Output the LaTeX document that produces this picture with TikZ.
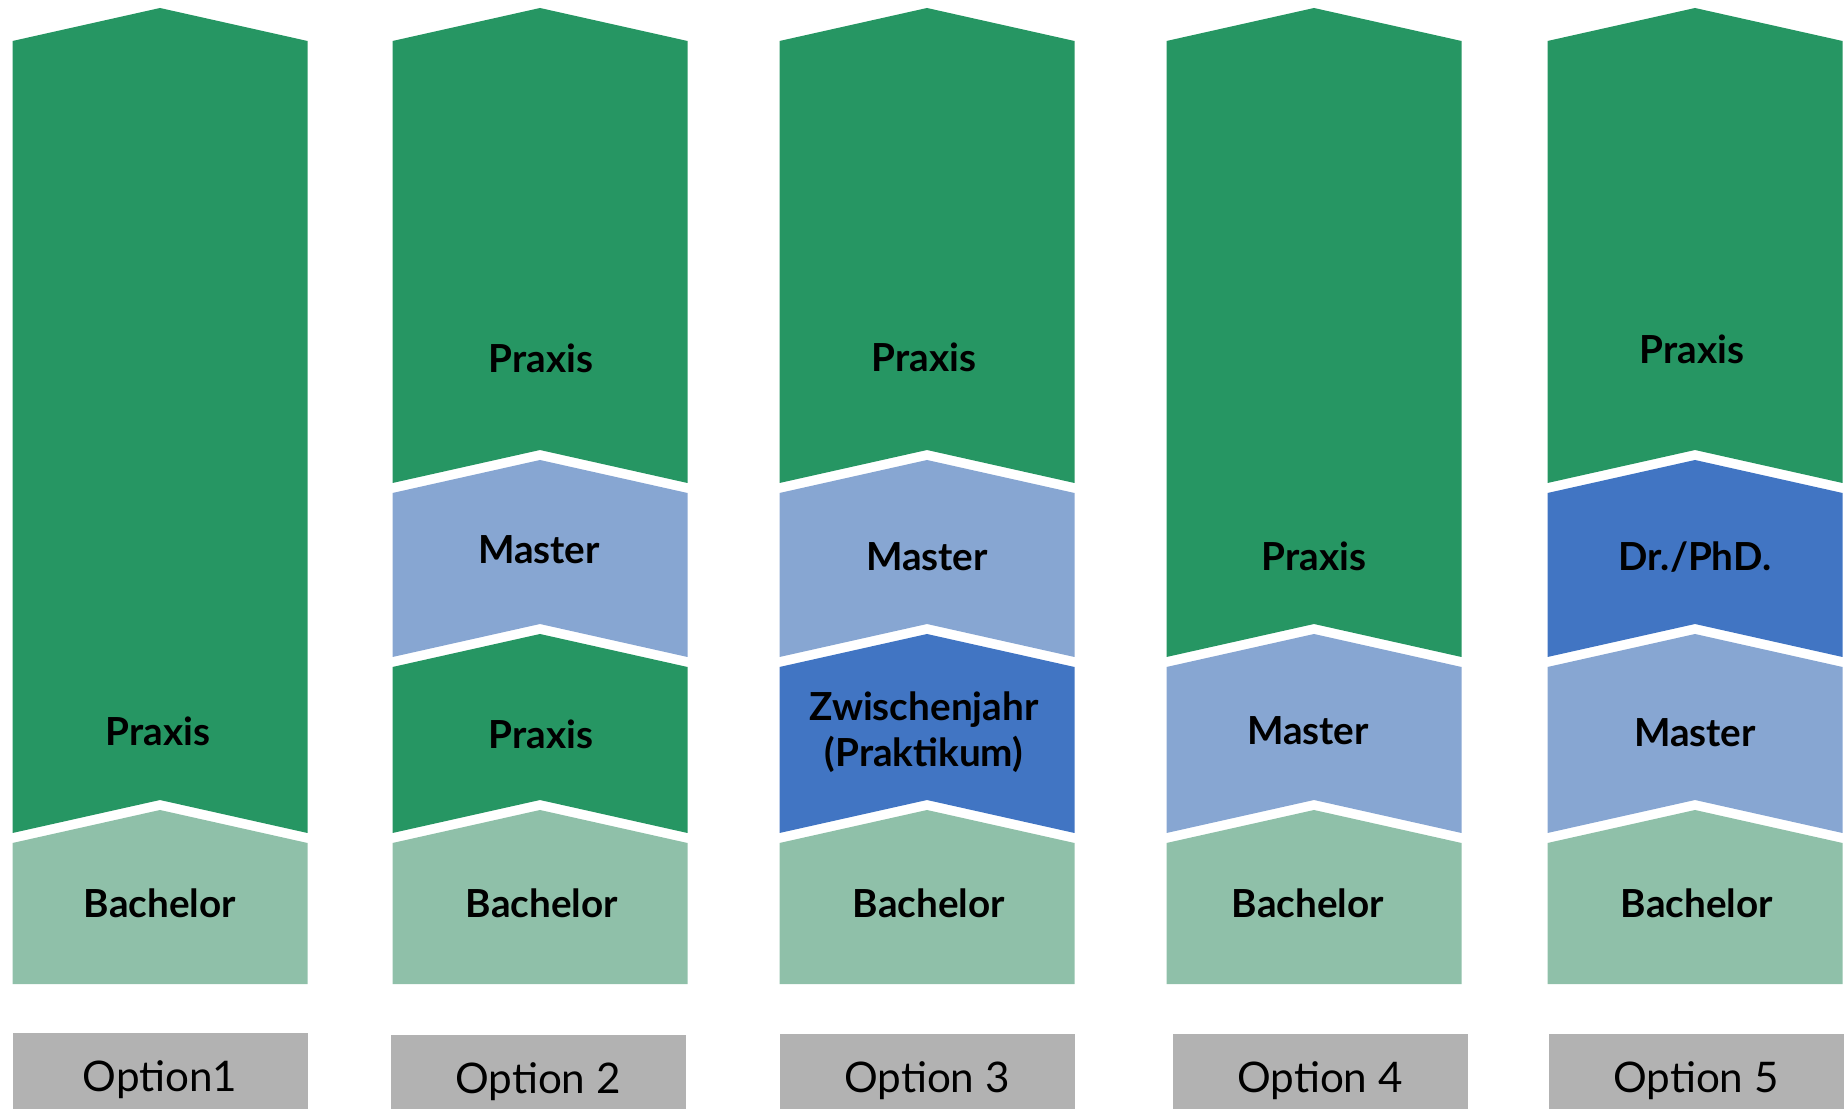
\documentclass[tikz,border=0pt]{standalone}
\usepackage{fontspec}
\setmainfont{Lato}
\usepackage{tikz}
\usetikzlibrary{positioning}
\definecolor{praxisgreen}{RGB}{38,150,99}
\definecolor{bachgreen}{RGB}{143,192,169}
\definecolor{masterblue}{RGB}{135,166,210}
\definecolor{phdblue}{RGB}{65,117,195}
\definecolor{optgray}{RGB}{178,178,178}
\tikzstyle{lbl}=[font=\fontsize{11}{13}\selectfont\bfseries, text=black, align=center]
\tikzstyle{optbox}=
  [fill=optgray, minimum width=2.95cm, minimum height=0.94cm,
   anchor=north, font=\fontsize{12}{14}\selectfont]
% one chevron: x centre, top, bottom, notch depth, colour
\newcommand{\chevseg}[5]{%
  \fill[#5] (#1-1.475,#2) -- (#1,#2+0.33) -- (#1+1.475,#2)
    -- (#1+1.475,#3) -- (#1,#3+#4) -- (#1-1.475,#3) -- cycle;}

\begin{document}
\begin{tikzpicture}
  \useasboundingbox (0,0) rectangle (18.47,11.08);

  % Option 1
  \chevseg{1.60}{10.67}{2.75}{0.33}{praxisgreen}
  \chevseg{1.60}{2.65}{1.24}{0}{bachgreen}
  \node [lbl] (p1) at (1.58,3.77) {Praxis};
  \node [lbl] (b1) at (1.60,2.05) {Bachelor};
  \node [optbox] (o1) at (1.60,0.76) {Option1};

  % Option 2
  \chevseg{5.40}{10.67}{6.25}{0.33}{praxisgreen}
  \chevseg{5.40}{6.15}{4.51}{0.33}{masterblue}
  \chevseg{5.40}{4.41}{2.75}{0.33}{praxisgreen}
  \chevseg{5.40}{2.65}{1.24}{0}{bachgreen}
  \node [lbl] (p2a) at (5.41,7.50) {Praxis};
  \node [lbl] (m2) at (5.39,5.58) {Master};
  \node [lbl] (p2b) at (5.41,3.74) {Praxis};
  \node [lbl] (b2) at (5.42,2.05) {Bachelor};
  \node [optbox] (o2) at (5.38,0.74) {Option 2};

  % Option 3
  \chevseg{9.27}{10.67}{6.25}{0.33}{praxisgreen}
  \chevseg{9.27}{6.15}{4.51}{0.33}{masterblue}
  \chevseg{9.27}{4.41}{2.75}{0.33}{phdblue}
  \chevseg{9.27}{2.65}{1.24}{0}{bachgreen}
  \node [lbl] (p3) at (9.24,7.51) {Praxis};
  \node [lbl] (m3) at (9.27,5.51) {Master};
  \node [lbl] (z3) at (9.24,3.76) {Zwischenjahr\\(Praktikum)};
  \node [lbl] (b3) at (9.29,2.05) {Bachelor};
  \node [optbox] (o3) at (9.27,0.75) {Option 3};

  % Option 4
  \chevseg{13.14}{10.67}{4.51}{0.33}{praxisgreen}
  \chevseg{13.14}{4.41}{2.75}{0.33}{masterblue}
  \chevseg{13.14}{2.65}{1.24}{0}{bachgreen}
  \node [lbl] (p4) at (13.14,5.52) {Praxis};
  \node [lbl] (m4) at (13.08,3.77) {Master};
  \node [lbl] (b4) at (13.08,2.05) {Bachelor};
  \node [optbox] (o4) at (13.20,0.75) {Option 4};

  % Option 5
  \chevseg{16.95}{10.67}{6.25}{0.33}{praxisgreen}
  \chevseg{16.95}{6.15}{4.51}{0.33}{phdblue}
  \chevseg{16.95}{4.41}{2.75}{0.33}{masterblue}
  \chevseg{16.95}{2.65}{1.24}{0}{bachgreen}
  \node [lbl] (p5) at (16.92,7.59) {Praxis};
  \node [lbl] (d5) at (16.95,5.51) {Dr./PhD.};
  \node [lbl] (m5) at (16.95,3.75) {Master};
  \node [lbl] (b5) at (16.97,2.05) {Bachelor};
  \node [optbox] (o5) at (16.96,0.75) {Option 5};
\end{tikzpicture}
\end{document}
